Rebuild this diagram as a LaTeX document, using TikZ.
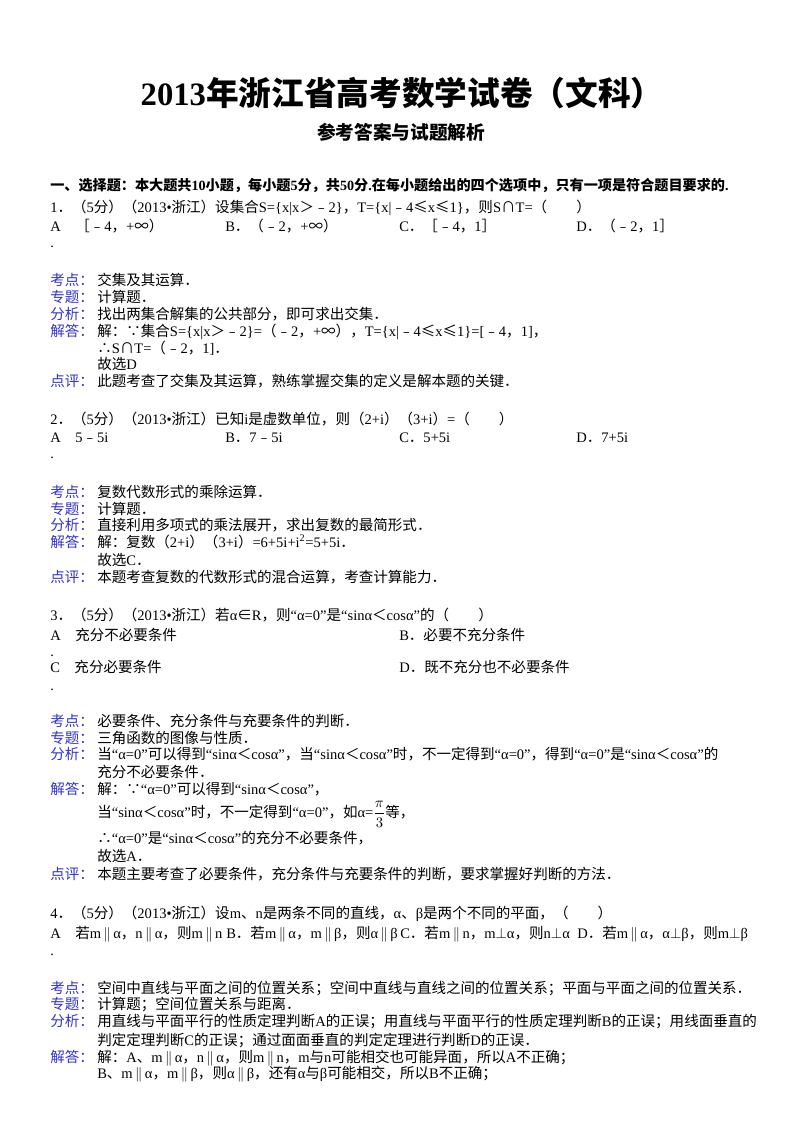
\documentclass[tikz,border=0pt]{standalone}
\usepackage{fontspec}
\setmainfont{Liberation Serif}
\newfontfamily\cj{Noto Sans CJK SC}
\makeatletter
\XeTeXinterchartokenstate=1
\newXeTeXintercharclass\cjkclass
\def\setcls#1#2{\count@=#1 \loop\XeTeXcharclass\count@=\cjkclass\advance\count@ 1 \ifnum\count@<#2 \repeat}
\setcls{"4E00}{"A000}
\setcls{"3000}{"3040}
\setcls{"FF00}{"FFF0}
\setcls{"FE30}{"FE70}
\setcls{"2200}{"2300}
\XeTeXinterchartoks 0 \cjkclass={\cj}
\XeTeXinterchartoks 4095 \cjkclass={\cj}
\XeTeXinterchartoks \cjkclass 0={\rmfamily}
\XeTeXinterchartoks \cjkclass 4095={\rmfamily}
\makeatother
\newcommand\pll{\ensuremath{\,\|\,}}
\newcommand\ppd{\ensuremath{\perp}}
\definecolor{lab}{RGB}{51,51,204}
\begin{document}
\begin{tikzpicture}[x=0.75pt,y=-0.75pt,
  t/.style={anchor=base west,inner sep=0pt,font=\fontsize{10.9}{13}\selectfont},
  l/.style={t,text=lab}]
\useasboundingbox[fill=white] (0,0) rectangle (800,1132);
\node[anchor=base,inner sep=0pt,font=\fontsize{24.5}{26}\selectfont\bfseries] (title) at (402,105) {2013年浙江省高考数学试卷（文科）};
\node[anchor=base,inner sep=0pt,font=\fontsize{14}{16}\selectfont\bfseries] (sub) at (401,139) {参考答案与试题解析};
\node[t,font=\fontsize{10.6}{12}\selectfont\bfseries] (sec) at (50,190) {一、选择题：本大题共10小题，每小题5分，共50分.在每小题给出的四个选项中，只有一项是符合题目要求的.};
% Q1
\node[t] (q1) at (50,212) {1．（5分）（2013•浙江）设集合S=\{x|x＞﹣2\}，T=\{x|﹣4≤x≤1\}，则S∩T=（\hspace{2em}）};
\node[t] (q1a) at (50,231) {A\quad［﹣4，+∞）};
\node[t] (q1b) at (225,231) {B．（﹣2，+∞）};
\node[t] (q1c) at (399,231) {C．［﹣4，1］};
\node[t] (q1d) at (576,231) {D．（﹣2，1］};
\node[t] (q1p) at (50,247) {.};
\node[l] (k1) at (50,285) {考点：}; \node[t] (k1t) at (97,285) {交集及其运算．};
\node[l] (z1) at (50,302) {专题：}; \node[t] (z1t) at (97,302) {计算题．};
\node[l] (f1) at (50,319) {分析：}; \node[t] (f1t) at (97,319) {找出两集合解集的公共部分，即可求出交集．};
\node[l] (j1) at (50,336) {解答：}; \node[t] (j1t) at (97,336) {解：∵集合S=\{x|x＞﹣2\}=（﹣2，+∞），T=\{x|﹣4≤x≤1\}=[﹣4，1]，};
\node[t] (j1b) at (97,353) {∴S∩T=（﹣2，1]．};
\node[t] (j1c) at (97,369) {故选D};
\node[l] (d1) at (50,386) {点评：}; \node[t] (d1t) at (97,386) {此题考查了交集及其运算，熟练掌握交集的定义是解本题的关键．};
% Q2
\node[t] (q2) at (50,424) {2．（5分）（2013•浙江）已知i是虚数单位，则（2+i）（3+i）=（\hspace{2em}）};
\node[t] (q2a) at (50,442) {A\quad 5﹣5i};
\node[t] (q2b) at (225,442) {B．7﹣5i};
\node[t] (q2c) at (399,442) {C．5+5i};
\node[t] (q2d) at (576,442) {D．7+5i};
\node[t] (q2p) at (50,458) {.};
\node[l] (k2) at (50,497) {考点：}; \node[t] (k2t) at (97,497) {复数代数形式的乘除运算．};
\node[l] (z2) at (50,514) {专题：}; \node[t] (z2t) at (97,514) {计算题．};
\node[l] (f2) at (50,530) {分析：}; \node[t] (f2t) at (97,530) {直接利用多项式的乘法展开，求出复数的最简形式．};
\node[l] (j2) at (50,547) {解答：}; \node[t] (j2t) at (97,547) {解：复数（2+i）（3+i）=6+5i+i\textsuperscript{2}=5+5i．};
\node[t] (j2b) at (97,565) {故选C．};
\node[l] (d2) at (50,582) {点评：}; \node[t] (d2t) at (97,582) {本题考查复数的代数形式的混合运算，考查计算能力．};
% Q3
\node[t] (q3) at (50,620) {3．（5分）（2013•浙江）若α∈R，则“α=0”是“sinα＜cosα”的（\hspace{2em}）};
\node[t] (q3a) at (50,640) {A\quad 充分不必要条件};
\node[t] (q3b) at (399,640) {B．必要不充分条件};
\node[t] (q3p1) at (50,656) {.};
\node[t] (q3c) at (50,672) {C\quad 充分必要条件};
\node[t] (q3d) at (399,672) {D．既不充分也不必要条件};
\node[t] (q3p2) at (50,690) {.};
\node[l] (k3) at (50,726) {考点：}; \node[t] (k3t) at (97,726) {必要条件、充分条件与充要条件的判断．};
\node[l] (z3) at (50,743) {专题：}; \node[t] (z3t) at (97,743) {三角函数的图像与性质．};
\node[l] (f3) at (50,759) {分析：}; \node[t] (f3t) at (97,759) {当“α=0”可以得到“sinα＜cosα”，当“sinα＜cosα”时，不一定得到“α=0”，得到“α=0”是“sinα＜cosα”的};
\node[t] (f3b) at (97,777) {充分不必要条件．};
\node[l] (j3) at (50,794) {解答：}; \node[t] (j3t) at (97,794) {解：∵“α=0”可以得到“sinα＜cosα”，};
\node[t] (j3b) at (97,817) {当“sinα＜cosα”时，不一定得到“α=0”，如α=$\displaystyle\frac{\pi}{3}$等，};
\node[t] (j3c) at (97,843) {∴“α=0”是“sinα＜cosα”的充分不必要条件，};
\node[t] (j3d) at (97,861) {故选A．};
\node[l] (d3) at (50,879) {点评：}; \node[t] (d3t) at (97,879) {本题主要考查了必要条件，充分条件与充要条件的判断，要求掌握好判断的方法．};
% Q4
\node[t] (q4) at (50,918) {4．（5分）（2013•浙江）设m、n是两条不同的直线，α、β是两个不同的平面，（\hspace{2em}）};
\node[t] (q4a) at (50,938) {A\quad 若m\pll α，n\pll α，则m\pll n};
\node[t] (q4b) at (226,938) {B．若m\pll α，m\pll β，则α\pll β};
\node[t] (q4c) at (400,938) {C．若m\pll n，m\ppd α，则n\ppd α};
\node[t] (q4d) at (577,938) {D．若m\pll α，α\ppd β，则m\ppd β};
\node[t] (q4p) at (50,955) {.};
\node[l] (k4) at (50,993) {考点：}; \node[t] (k4t) at (97,993) {空间中直线与平面之间的位置关系；空间中直线与直线之间的位置关系；平面与平面之间的位置关系．};
\node[l] (z4) at (50,1009) {专题：}; \node[t] (z4t) at (97,1009) {计算题；空间位置关系与距离．};
\node[l] (f4) at (50,1026) {分析：}; \node[t] (f4t) at (97,1026) {用直线与平面平行的性质定理判断A的正误；用直线与平面平行的性质定理判断B的正误；用线面垂直的};
\node[t] (f4b) at (97,1045) {判定定理判断C的正误；通过面面垂直的判定定理进行判断D的正误．};
\node[l] (j4) at (50,1062) {解答：}; \node[t] (j4t) at (97,1062) {解：A、m\pll α，n\pll α，则m\pll n，m与n可能相交也可能异面，所以A不正确；};
\node[t] (j4b) at (97,1078) {B、m\pll α，m\pll β，则α\pll β，还有α与β可能相交，所以B不正确；};
\end{tikzpicture}
\end{document}
